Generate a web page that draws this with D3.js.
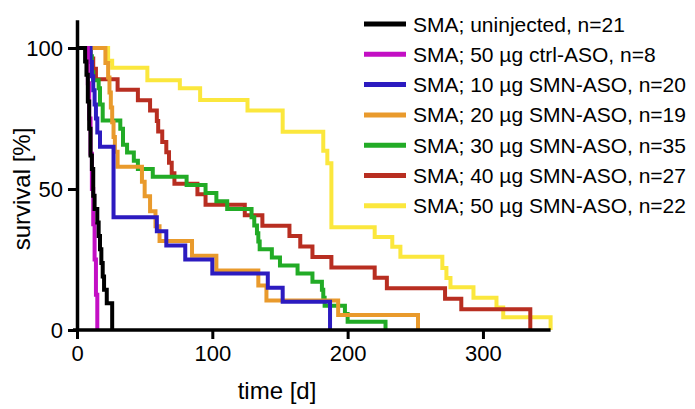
<!DOCTYPE html>
<html>
<head>
<meta charset="utf-8">
<script src="https://cdn.jsdelivr.net/npm/d3@7"></script>
<style>
body { margin: 0; background: #fff; }
text { font-family: "Liberation Sans", Arial, sans-serif; fill: #000; }
</style>
</head>
<body>
<svg id="chart" width="695" height="409"></svg>
<script>
// survival data (time in days, survival in %)
var uninjectedTime = [0, 6, 7, 8, 9, 10, 11, 12, 13, 15, 16, 17, 18, 19, 20, 22, 26];
var uninjectedSurv = [100, 95.2, 90.5, 81, 71.4, 61.9, 57.1, 47.6, 42.9, 38.1, 33.3, 28.6, 23.8, 19, 14.3, 9.5, 0];

var ctrlTime = [0, 8, 9, 10, 11, 12, 13, 14, 15];
var ctrlSurv = [100, 87.5, 75, 62.5, 50, 37.5, 25, 12.5, 0];

var aso10Time = [0, 10, 11, 12, 13, 14, 15, 17, 27, 59, 66, 80, 100, 141, 152, 187];
var aso10Surv = [100, 95, 90, 85, 80, 75, 70, 65, 40, 35, 30, 25, 20, 15, 10, 0];

var aso20Time = [0, 21, 23, 24, 25, 26, 27, 28, 30, 48, 50, 54, 58, 61, 85, 103, 134, 140, 193, 252];
var aso20Surv = [100, 94.7, 89.5, 84.2, 78.9, 73.7, 68.4, 63.2, 57.9, 52.6, 47.4, 42.1, 36.8, 31.6, 26.3, 21.1, 15.8, 10.5, 5.3, 0];

var aso30Time = [0, 10, 11, 12, 16, 17, 19, 32, 34, 37, 42, 45, 56, 81, 95, 103, 111, 129, 131, 133, 134, 135, 144, 150, 163, 174, 181, 182, 183, 198, 200, 228];
var aso30Surv = [100, 97.1, 91.4, 88.6, 85.7, 80, 74.3, 71.4, 65.7, 62.9, 60, 57.1, 54.3, 51.4, 48.6, 45.7, 42.9, 40, 37.1, 34.3, 31.4, 28.6, 25.7, 22.9, 20, 17.1, 14.3, 11.4, 8.6, 5.7, 2.9, 0];

var aso40Time = [0, 10, 12, 14, 30, 45, 54, 59, 60, 63, 66, 68, 70, 72, 89, 95, 124, 137, 157, 165, 174, 188, 220, 229, 272, 284, 335];
var aso40Surv = [100, 96.3, 92.6, 88.9, 85.2, 81.5, 77.8, 74.1, 70.4, 66.7, 63, 59.3, 55.6, 51.9, 48.1, 44.4, 40.7, 37, 33.3, 29.6, 25.9, 22.2, 18.5, 14.8, 11.1, 7.4, 0];

var aso50Time = [0, 23, 26, 52, 76, 91, 126, 152, 182, 185, 188, 220, 233, 239, 270, 273, 276, 293, 310, 315, 350];
var aso50Surv = [100, 95.5, 93, 88.6, 85.7, 81.6, 77.8, 70.3, 63.6, 59.1, 36.4, 33, 29.5, 26, 22, 18.4, 15.2, 11.4, 8, 4.5, 0];

var seriesNames = [
    "SMA; uninjected, n=21",
    "SMA; 50 \u00b5g ctrl-ASO, n=8",
    "SMA; 10 \u00b5g SMN-ASO, n=20",
    "SMA; 20 \u00b5g SMN-ASO, n=19",
    "SMA; 30 \u00b5g SMN-ASO, n=35",
    "SMA; 40 \u00b5g SMN-ASO, n=27",
    "SMA; 50 \u00b5g SMN-ASO, n=22"
];
var seriesColors = ["#000000", "#c30fc4", "#2c1bc0", "#e99a2c", "#22ab26", "#b82e21", "#fbe73d"];

var xTicks = [0, 100, 200, 300];
var yTicks = [0, 50, 100];

var series = [
    d3.zip(uninjectedTime, uninjectedSurv),
    d3.zip(ctrlTime, ctrlSurv),
    d3.zip(aso10Time, aso10Surv),
    d3.zip(aso20Time, aso20Surv),
    d3.zip(aso30Time, aso30Surv),
    d3.zip(aso40Time, aso40Surv),
    d3.zip(aso50Time, aso50Surv)
];

var svg = d3.select("#chart");

var xScale = d3.scaleLinear().domain([0, 350]).range([77, 550.6]);
var yScale = d3.scaleLinear().domain([0, 110]).range([330, 19.8]);

var line = d3.line()
    .x(function (d) { return xScale(d[0]); })
    .y(function (d) { return yScale(d[1]); })
    .curve(d3.curveStepAfter);

// draw last series first so black ends up on top
for (var i = series.length - 1; i >= 0; i--) {
    svg.append("path")
        .attr("d", line(series[i]))
        .attr("fill", "none")
        .attr("stroke", seriesColors[i])
        .attr("stroke-width", 4);
}

var xAxis = svg.append("g")
    .attr("transform", "translate(0,330)")
    .call(d3.axisBottom(xScale).tickValues(xTicks).tickSize(9).tickSizeOuter(0).tickPadding(6));

var yAxis = svg.append("g")
    .attr("transform", "translate(77,0)")
    .call(d3.axisLeft(yScale).tickValues(yTicks).tickSize(9).tickSizeOuter(0).tickPadding(5));

[xAxis, yAxis].forEach(function (ax) {
    ax.select(".domain").attr("stroke", "#000").attr("stroke-width", 3.5);
    ax.selectAll(".tick line").attr("stroke", "#000").attr("stroke-width", 3);
    ax.selectAll(".tick text")
        .style("font-family", "'Liberation Sans', Arial, sans-serif")
        .style("font-size", "22px")
        .attr("fill", "#000");
});
xAxis.select(".domain").attr("d", "M73,0H550.6");

svg.append("text")
    .attr("x", 277)
    .attr("y", 399)
    .attr("text-anchor", "middle")
    .style("font-size", "24px")
    .text("time [d]");

svg.append("text")
    .attr("transform", "translate(30,189) rotate(-90)")
    .attr("text-anchor", "middle")
    .style("font-size", "24px")
    .text("survival [%]");

var legend = svg.append("g");
seriesNames.forEach(function (name, i) {
    var cy = 24 + i * 30.3;
    legend.append("line")
        .attr("x1", 364).attr("x2", 406)
        .attr("y1", cy).attr("y2", cy)
        .attr("stroke", seriesColors[i])
        .attr("stroke-width", 5);
    legend.append("text")
        .attr("x", 413)
        .attr("y", cy + 7.5)
        .style("font-size", "21px")
        .text(name);
});
</script>
</body>
</html>
